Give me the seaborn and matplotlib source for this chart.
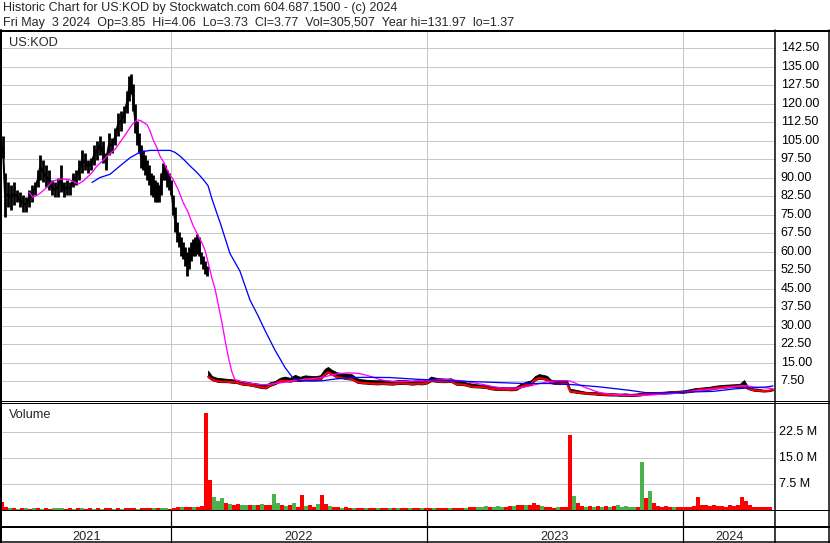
import numpy as np
import matplotlib
matplotlib.use("Agg")
import matplotlib.pyplot as plt
from matplotlib.lines import Line2D
import seaborn as sns

# ---------------- data (session index ~ trading day on the chart) ----------------
px = [3, 5, 8, 11, 14, 17, 20, 23, 26, 29, 32, 35, 38, 40, 43, 46, 49, 52, 55, 58,
      61, 64, 67, 70, 73, 76, 79, 82, 85, 88, 91, 94, 97, 100, 103, 106, 109, 112, 115, 118,
      121, 124, 127, 129, 131, 133, 135, 137, 139, 141, 143, 145, 147, 149, 151, 153, 155, 157, 159, 161,
      163, 165, 167, 169, 171, 173, 175, 177, 179, 181, 183, 185, 187, 189, 191, 193, 195, 197, 199, 201,
      203, 205, 207,
      208, 212, 217, 222, 227, 232, 237, 242, 247, 252, 257, 262, 266, 270, 275, 280, 285, 290, 295, 300,
      305, 310, 315, 320, 325, 328, 332, 337, 342, 347, 352, 357, 362, 367, 372, 377, 382, 387, 392, 397,
      402, 407, 412, 417, 422, 427, 431, 436, 441, 446, 451, 456, 461, 466, 471, 476, 481, 486, 491, 496,
      501, 506, 511, 516, 521, 526, 531, 535, 539, 543, 547, 551, 555, 559, 563, 567, 570, 575, 580, 585,
      590, 595, 600, 605, 610, 615, 620, 625, 630, 635, 640, 645, 650, 655, 660, 665, 670, 675, 680, 685,
      690, 695, 700, 705, 710, 715, 720, 725, 730, 735, 740, 744, 748, 753, 758, 763, 768, 773]
hi = [107, 92, 88, 87, 88, 85, 84, 83, 82, 85, 87, 88, 93, 99, 97, 95, 93, 89, 88, 90,
      95, 88, 89, 88, 92, 93, 97, 101, 100, 97, 98, 103, 105, 107, 105, 100, 108, 106, 110, 116,
      117, 119, 125, 131, 132, 128, 120, 113, 108, 103, 101, 99, 97, 95, 92, 91, 89, 88, 87, 92,
      96, 95, 93, 92, 89, 83, 78, 72, 68, 66, 64, 62, 60, 62, 64, 65, 66, 67, 66, 60,
      58, 56, 54,
      11.7, 9.5, 8.8, 8.6, 8.4, 8.2, 8.0, 7.4, 7.2, 6.8, 6.5, 6.2, 6.0, 7.0, 7.5, 8.8, 9.3, 8.8, 10.0, 9.2,
      9.8, 9.6, 9.5, 9.8, 12.5, 13.2, 12.0, 11.0, 10.8, 10.5, 10.2, 8.6, 8.2, 8.0, 7.9, 7.8, 7.9, 7.8, 7.6, 7.8,
      7.9, 7.8, 7.6, 7.8, 7.7, 8.0, 9.3, 8.8, 8.6, 8.5, 8.6, 7.6, 7.4, 7.0, 6.5, 6.2, 6.0, 5.8, 5.4, 5.2,
      5.1, 5.0, 5.0, 5.2, 6.5, 7.2, 7.8, 9.5, 10.3, 10.0, 9.6, 8.0, 7.9, 7.8, 7.9, 7.8, 4.4, 4.0, 3.6, 3.2,
      3.0, 3.0, 2.8, 2.6, 2.6, 2.5, 2.4, 2.5, 2.3, 2.4, 2.6, 3.0, 3.1, 3.0, 3.1, 3.2, 3.4, 3.5, 3.6, 3.8,
      4.2, 4.6, 4.8, 5.0, 5.2, 5.6, 5.8, 6.0, 6.1, 6.2, 6.4, 7.9, 5.2, 4.5, 4.4, 4.0, 3.9, 4.06]
lo = [98, 74, 78, 77, 79, 80, 78, 76, 76, 78, 80, 83, 86, 89, 88, 86, 85, 83, 82, 82,
      84, 82, 83, 83, 86, 87, 89, 92, 93, 92, 93, 95, 97, 99, 96, 93, 99, 100, 103, 107,
      109, 112, 116, 121, 124, 117, 108, 103, 100, 94, 93, 91, 89, 87, 83, 82, 80, 80, 80, 83,
      89, 89, 86, 85, 83, 75, 68, 64, 62, 58, 57, 54, 50, 53, 56, 58, 58, 59, 58, 55,
      53, 51, 50,
      9.0, 7.8, 7.2, 7.0, 7.0, 6.8, 6.6, 6.0, 5.8, 5.5, 5.0, 4.6, 4.5, 5.5, 6.2, 7.2, 7.4, 7.2, 7.6, 7.5,
      8.0, 7.8, 7.8, 7.9, 10.0, 10.8, 10.0, 8.8, 8.6, 8.2, 8.0, 6.8, 6.5, 6.4, 6.2, 6.1, 6.2, 6.1, 6.0, 6.2,
      6.3, 6.2, 6.0, 6.2, 6.1, 6.5, 7.4, 7.2, 7.0, 7.0, 7.1, 6.0, 5.9, 5.6, 5.0, 4.9, 4.8, 4.6, 4.1, 3.9,
      3.8, 3.8, 3.7, 3.8, 5.0, 5.6, 6.0, 7.8, 8.4, 8.2, 7.8, 6.6, 6.3, 6.2, 6.3, 6.2, 3.0, 2.8, 2.5, 2.3,
      2.1, 2.0, 1.8, 1.7, 1.6, 1.6, 1.5, 1.5, 1.4, 1.5, 1.6, 2.0, 2.2, 2.2, 2.3, 2.4, 2.5, 2.6, 2.6, 2.8,
      3.0, 3.4, 3.8, 3.9, 4.0, 4.4, 4.6, 4.8, 4.9, 5.0, 5.1, 5.2, 4.2, 3.6, 3.4, 3.2, 3.3, 3.73]

ma_short_x = [29, 33, 38, 43, 48, 53, 60, 68, 73, 78, 83, 87, 92, 97, 102, 107, 115, 123, 128, 132,
              137, 141, 147, 150, 153, 157, 160, 164, 167, 170, 173, 178, 183, 188, 193, 198, 202, 205, 208, 212,
              215, 218, 222, 226, 229, 232, 235, 240, 245, 250, 255, 262, 268, 275, 285, 295, 308, 322, 335, 348,
              358, 365, 372, 378, 386, 395, 405, 415, 423, 430, 440, 450, 463, 473, 483, 492, 500, 510, 520, 530,
              540, 548, 557, 565, 570, 575, 580, 585, 590, 595, 600, 610, 620, 630, 640, 650, 660, 670, 680, 690,
              700, 710, 720, 730, 740, 747, 753, 760, 767, 773]
ma_short = [84, 82, 83, 84.6, 86.5, 88.6, 89.3, 89.3, 88.5, 87.3, 88.5, 90, 92, 94.7, 96.5, 98.7, 101.4, 106, 109, 111.4,
            113.4, 113, 111.4, 109, 105.4, 102, 98.7, 96, 93.3, 91, 89.3, 85.3, 80, 76, 70.6, 66.5, 63.5, 60.5, 55.8, 49,
            45, 39, 31, 22, 16, 11, 8, 7.4, 7.0, 6.6, 6.3, 6.0, 6.1, 6.5, 7.0, 7.6, 8.3, 8.9, 10.3, 10.8,
            10.6, 10.0, 9.2, 8.3, 7.6, 7.2, 7.3, 7.5, 7.5, 7.8, 8.2, 8.0, 7.5, 6.8, 6.1, 5.3, 4.7, 4.6, 4.7, 5.5,
            6.5, 7.2, 7.6, 7.6, 7.5, 6.7, 5.8, 4.9, 4.2, 3.4, 2.8, 2.2, 1.8, 1.7, 1.6, 1.8, 2.1, 2.4, 2.7, 3.2,
            3.7, 4.1, 4.4, 5.0, 5.5, 5.6, 5.1, 4.9, 4.7, 4.4]

ma_long_x = [92, 100, 110, 120, 130, 140, 150, 160, 170, 175, 180, 185, 190, 195, 200, 205, 208, 212, 216, 220,
             225, 230, 240, 250, 258, 265, 275, 285, 292, 297, 302, 312, 322, 335, 352, 368, 390, 417, 457, 490,
             523, 550, 570, 580, 600, 630, 647, 667, 687, 713, 737, 767, 773]
ma_long = [88, 90, 91.3, 94.7, 98, 100.3, 101, 101, 101, 100.2, 98.7, 96.8, 94.7, 92.8, 90.7, 88.3, 86.7, 81.3, 76.5, 71.9,
           65.5, 59.2, 52, 40.3, 34, 28, 20, 13, 9.2, 8.0, 7.5, 7.5, 7.6, 8.3, 8.9, 9.0, 8.9, 8.2, 7.5, 7.0,
           6.5, 6.5, 6.1, 5.8, 5.1, 3.7, 2.7, 2.7, 3.0, 3.3, 4.4, 5.1, 5.5]

# volume (millions), one value per 4 sessions starting at session 2
vol = [2.3, 1.0, 0.5, 0.6, 0.4, 0.5, 0.7, 0.4, 0.5, 0.6, 0.4, 0.5, 0.4, 0.6, 0.5, 0.7, 0.4, 0.5, 0.4, 0.5,
       0.6, 0.4, 0.6, 0.4, 0.5, 0.4, 0.5, 0.6, 0.4, 0.5, 0.4, 0.5, 0.6, 0.5, 0.4, 0.6, 0.5, 0.7, 0.5, 0.6,
       0.7, 0.6, 0.4, 0.7, 0.9, 0.8, 1.0, 0.9, 1.0, 0.9, 1.1, 27.9, 8.6, 3.8, 2.6, 3.6, 1.9, 1.6, 1.5, 1.6,
       1.3, 1.3, 1.5, 1.5, 1.4, 1.6, 1.3, 1.3, 4.6, 2.0, 1.3, 1.2, 1.3, 2.0, 0.8, 4.3, 1.2, 1.3, 0.9, 1.6,
       4.3, 1.6, 1.1, 0.8, 0.9, 0.7, 0.8, 0.7, 0.6, 0.7, 0.6, 0.7, 0.6, 0.7, 0.6, 0.6, 0.7, 0.6, 0.5, 0.6,
       0.7, 0.6, 0.6, 0.5, 0.6, 0.5, 0.5, 0.6, 0.5, 0.6, 0.5, 0.6, 0.5, 0.6, 0.5, 0.6, 0.7, 0.9, 0.8, 1.0,
       0.9, 1.1, 0.9, 1.0, 1.1, 0.9, 1.0, 1.2, 1.1, 1.3, 1.4, 1.5, 1.3, 2.0, 1.5, 1.1, 0.9, 0.8, 0.7, 0.8,
       0.9, 0.8, 21.5, 4.0, 2.1, 1.1, 1.0, 1.1, 1.0, 1.1, 1.0, 1.2, 1.0, 1.1, 1.3, 1.0, 1.1, 1.0, 0.9, 1.0,
       13.7, 3.6, 5.5, 2.1, 1.2, 1.0, 1.1, 0.9, 1.0, 0.9, 0.9, 1.0, 0.9, 1.1, 3.8, 1.3, 1.5, 1.2, 1.4, 1.1,
       1.2, 1.0, 1.3, 1.1, 1.5, 3.8, 2.6, 1.4, 1.0, 0.9, 0.9, 1.0, 0.9]
vol_dir = ("rrgrgrgrgrgrrgggrrgrgrrgrgrrgrgrrrgrrrgrggrrrgrrgrrr"
           "rgggrgrrggrgrgrrggrgrgrrgrrgrrgrrgrrgrrgrrgrrgrgrrgrrg"
           "rrgrrrgrrrgrrgggrgggrrgrrgrrrgrrrgrrrgrrgrgrgrgrgggggr"
           "grgrrrrrgrrrr")

price_ticks = [7.5 * k for k in range(1, 20)]
vol_ticks = [7.5, 15.0, 22.5]
year_start = [170.5, 426.7, 683.4]
year_label = ["2021", "2022", "2023", "2024"]

title1 = "Historic Chart for US:KOD by Stockwatch.com 604.687.1500 - (c) 2024"
title2 = "Fri May  3 2024  Op=3.85  Hi=4.06  Lo=3.73  Cl=3.77  Vol=305,507  Year hi=131.97  lo=1.37"

# ---------------- drawing ----------------
sns.set_theme(style="white")
plt.rcParams['font.family'] = ['Liberation Sans', 'DejaVu Sans']

W, H = 830, 543
fig = plt.figure(figsize=(W / 100, H / 100), dpi=100)
fig.patch.set_facecolor("white")


def rect(x0, y0, x1, y1):
    return [x0 / W, 1 - y1 / H, (x1 - x0) / W, (y1 - y0) / H]


X0, X1 = 2, 775
GRID = "#C8C8C8"
RED = "#FF0000"
GREEN = "#4CB04C"
PX = 0.72  # points per pixel

axp = fig.add_axes(rect(X0, 32, X1, 400))
axv = fig.add_axes(rect(X0, 402.5, X1, 510))
axd = fig.add_axes(rect(X0, 510, X1, 543))
for ax in (axp, axv, axd):
    ax.set_facecolor("white")
    for s in ax.spines.values():
        s.set_visible(False)
    ax.set_xticks([])
    ax.set_yticks([])
    ax.set_xlim(X0, X1)

# price panel
axp.set_ylim(-0.2, 149.0)
for v in price_ticks:
    axp.axhline(v, color=GRID, lw=PX, zorder=0)
    axp.text(1.0075, v, f"{v:.2f}", transform=axp.get_yaxis_transform(),
             ha="left", va="center", fontsize=9.0, color="#000000", clip_on=False)
for x in year_start:
    axp.axvline(x, color=GRID, lw=PX, zorder=0)

pxa, hia, loa = np.array(px, float), np.array(hi, float), np.array(lo, float)
pre = pxa < 207.5
post = ~pre
# daily-style high/low bars
axp.vlines(pxa[pre], loa[pre], hia[pre], color="black", lw=2.8 * PX, zorder=2)
axp.plot(pxa[pre], (loa[pre] + hia[pre]) / 2, color="black", lw=2.0 * PX, zorder=2)
axp.fill_between(pxa[post], loa[post], hia[post], color="black", lw=0.8 * PX, zorder=2)
axp.plot(pxa[post], loa[post] + 0.25, color=RED, lw=2.0 * PX, zorder=3)

sns.lineplot(x=ma_short_x, y=ma_short, ax=axp, color="#FF00FF", linewidth=1.3 * PX,
             estimator=None, sort=False, legend=False, zorder=4)
sns.lineplot(x=ma_long_x, y=ma_long, ax=axp, color="#0000FF", linewidth=1.3 * PX,
             estimator=None, sort=False, legend=False, zorder=4)
axp.set_xlim(X0, X1)
axp.set_xlabel("")
axp.set_ylabel("")

# volume panel
axv.set_ylim(0, 31.0)
for v in vol_ticks:
    axv.axhline(v, color=GRID, lw=PX, zorder=0)
    axv.text(1.0055, v, f"{v:.1f} M", transform=axv.get_yaxis_transform(),
             ha="left", va="center", fontsize=9.0, color="#000000", clip_on=False)
for x in year_start:
    axv.axvline(x, color=GRID, lw=PX, zorder=0)
vx = [2 + 4 * i for i in range(len(vol))]
vcol = [GREEN if c == "g" else RED for c, _ in zip(vol_dir.ljust(len(vol), "r"), vol)]
axv.bar(vx, vol, width=3.4, color=vcol, linewidth=0, zorder=2)
axv.set_xlim(X0, X1)

# date strip
axd.set_ylim(543, 510)
for x in year_start:
    axd.plot([x, x], [510, 543], color="black", lw=1.2 * PX)
bounds = [X0] + year_start + [X1]
for i, lab in enumerate(year_label):
    axd.text((bounds[i] + bounds[i + 1]) / 2, 540, lab, ha="center", va="baseline", fontsize=9.2)


# frame lines (figure pixels)
def hline(y, x0=0, x1=W, lw=1.0):
    fig.add_artist(Line2D([x0 / W, x1 / W], [1 - y / H, 1 - y / H], transform=fig.transFigure,
                          color="black", lw=lw * PX))


def vline(x, y0, y1, lw=1.0):
    fig.add_artist(Line2D([x / W, x / W], [1 - y0 / H, 1 - y1 / H], transform=fig.transFigure,
                          color="black", lw=lw * PX))


hline(30.5, lw=2)
hline(400.5)
hline(402.5)
hline(510)
hline(527, lw=2)
hline(542, lw=1.5)
vline(1, 30, 543, lw=2)
vline(775, 30, 543, lw=1.5)
vline(828.5, 30, 543, lw=1.5)

fig.text(3 / W, 1 - 11 / H, title1, fontsize=9.0, va="baseline", ha="left")
fig.text(3 / W, 1 - 26 / H, title2, fontsize=9.0, va="baseline", ha="left")
fig.text(9 / W, 1 - 46 / H, "US:KOD", fontsize=9.2, va="baseline", ha="left")
fig.text(9 / W, 1 - 418 / H, "Volume", fontsize=9.2, va="baseline", ha="left")

fig.savefig("out.png", dpi=100)
